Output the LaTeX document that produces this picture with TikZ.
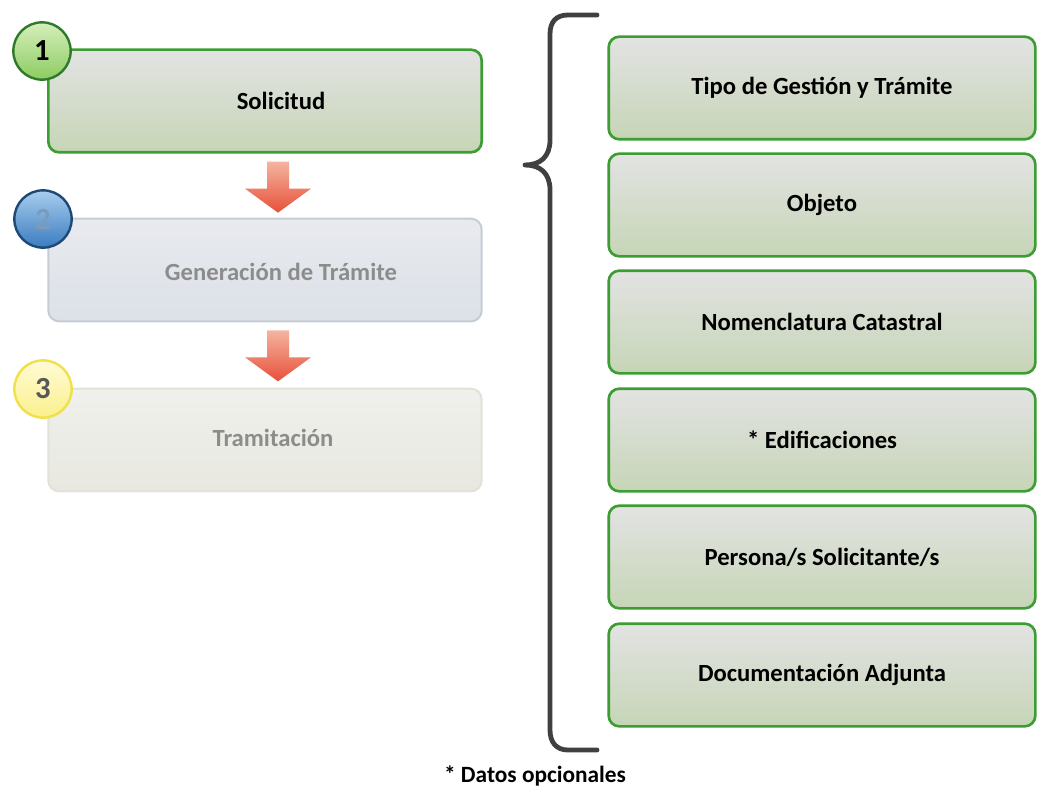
\documentclass[tikz,border=0pt]{standalone}
\usepackage{fontspec}
\setmainfont{Carlito}
\usetikzlibrary{calc}
\definecolor{verde}{HTML}{3C9E32}
\definecolor{verdeosc}{HTML}{2F7A2A}
\definecolor{grisazul}{HTML}{C6CCD3}
\definecolor{grisclaro}{HTML}{E2E2D6}
\definecolor{llave}{HTML}{404040}
\definecolor{textogris}{HTML}{8C8C8C}
\tikzset{
  databox/.style={draw=verde,line width=2pt,rounded corners=8pt,top color=gray!22,bottom color={rgb,255:red,198;green,213;blue,182},
    minimum width=320pt,minimum height=77pt,inner sep=0pt},
  stepbox/.style={rounded corners=8pt,minimum width=325pt,minimum height=77pt,inner sep=0pt,line width=1.5pt},
  stepnum/.style={circle,minimum size=43pt,inner sep=0pt,line width=1.8pt,font=\fontsize{23}{26}\selectfont\bfseries},
  redarrow/.style={top color={rgb,255:red,244;green,180;blue,160},bottom color={rgb,255:red,232;green,80;blue,58}}
}
\begin{document}
\begin{tikzpicture}[x=.75pt,y=-.75pt,line join=round,line cap=round,font=\fontsize{18.5}{22}\selectfont\bfseries]
	\useasboundingbox (0,0) rectangle (1038,795);
	% pasos
	\node[stepbox,draw=verde,line width=2pt,top color=gray!22,bottom color={rgb,255:red,198;green,213;blue,182}] (s1) at (265,101) {};
	\node[stepbox,draw=grisazul,top color={rgb,255:red,232;green,234;blue,238},bottom color={rgb,255:red,220;green,225;blue,232}] (s2) at (265,270) {};
	\node[stepbox,draw=grisclaro,top color={rgb,255:red,240;green,240;blue,236},bottom color={rgb,255:red,232;green,232;blue,225}] (s3) at (265,440) {};
	\node (t1) at (281,101) {Solicitud};
	\node[textogris] (t2) at (281,272) {Generación de Trámite};
	\node[textogris] (t3) at (273,438) {Tramitación};
	\foreach \a/\b in {s1/s2,s2/s3}
		\path[redarrow] ($(\a.south)+(2,8)$) -- ++(22,0) -- ++(0,27) -- ++(22,0) -- ++(-33,24) -- ++(-33,-24) -- ++(22,0) -- cycle;
	\node[stepnum,draw=verdeosc,top color={rgb,255:red,214;green,238;blue,188},bottom color={rgb,255:red,140;green,204;blue,96}] (n1) at (42,51) {1};
	\node[stepnum,draw={rgb,255:red,29;green,74;blue,117},top color={rgb,255:red,168;green,205;blue,238},bottom color={rgb,255:red,58;green,124;blue,192},text={rgb,255:red,125;green,155;blue,185}] (n2) at (43,219) {2};
	\node[stepnum,draw={rgb,255:red,240;green,224;blue,74},top color={rgb,255:red,255;green,251;blue,214},bottom color={rgb,255:red,250;green,240;blue,140},text=black!65] (n3) at (43,389) {3};
	% llave
	\draw[llave,line width=3.6pt] (597,15) -- (568,15) .. controls (556,15) and (550,22) .. (550,34) -- (550,140)
		.. controls (550,157) and (540,165) .. (525,165) .. controls (540,165) and (550,173) .. (550,190)
		-- (550,730) .. controls (550,742) and (556,750) .. (568,750) -- (597,750);
	% datos
	\foreach \y/\t [count=\i] in {88/{Tipo de Gestión y Trámite},205/{Objeto},322/{Nomenclatura Catastral},440/{* Edificaciones},557/{Persona/s Solicitante/s},675/{Documentación Adjunta}}
		\node[databox] (d\i) at (822,\y) {\t};
	\node[font=\fontsize{17.5}{21}\selectfont\bfseries] (nota) at (535,776) {* Datos opcionales};
\end{tikzpicture}
\end{document}
